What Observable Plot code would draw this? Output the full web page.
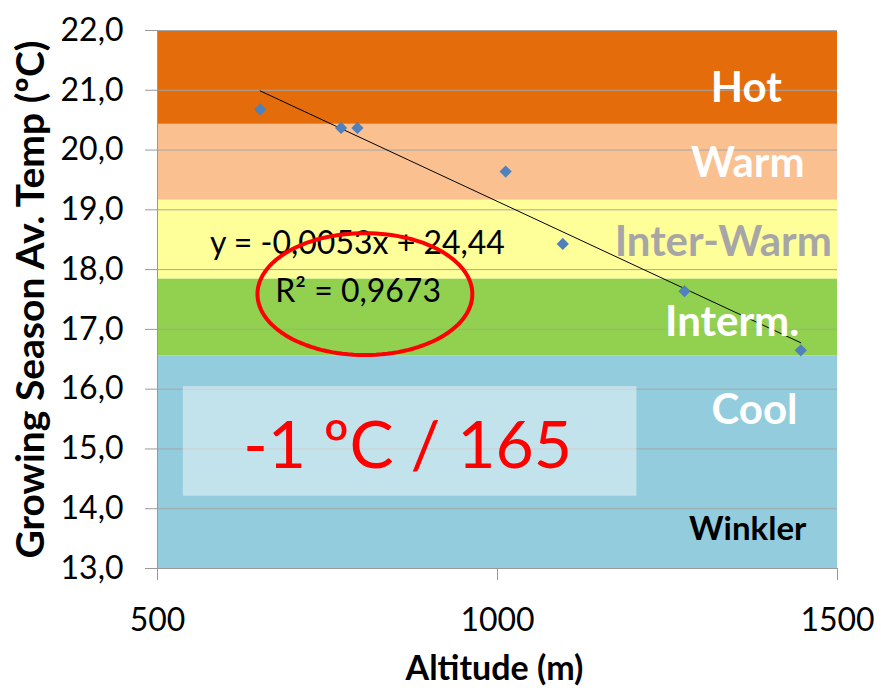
<!DOCTYPE html>
<html>
<head>
<meta charset="utf-8">
<script src="https://cdn.jsdelivr.net/npm/d3@7"></script>
<script src="https://cdn.jsdelivr.net/npm/@observablehq/plot@0.6"></script>
<style>
  html, body { margin: 0; padding: 0; background: #fff; }
</style>
</head>
<body>
<div id="chart"></div>
<script>
// ---- data ----
const altitude = [651, 770, 794, 1012, 1096, 1275, 1446];
const temperature = [20.68, 20.37, 20.37, 19.64, 18.43, 17.64, 16.65];

const zoneNames = ["Hot", "Warm", "Inter-Warm", "Interm.", "Cool"];
const zoneLow = [20.43, 19.16, 17.84, 16.56, 13.0];
const zoneHigh = [22.0, 20.43, 19.16, 17.84, 16.56];
const zoneColors = ["#e46c0a", "#fac090", "#ffff99", "#92d050", "#93cddd"];
const zoneTextColors = ["#ffffff", "#ffffff", "#a6a6a6", "#ffffff", "#ffffff"];
const zoneLabelX = [1366, 1368, 1332, 1345, 1378];
const zoneLabelY = [21.03, 19.78, 18.45, 17.11, 15.64];

const xTicks = [500, 1000, 1500];
const yTicks = [13, 14, 15, 16, 17, 18, 19, 20, 21, 22];

const trendSlope = -0.0053;
const trendIntercept = 24.44;
const equationText = "y = -0,0053x + 24,44";
const r2Text = "R² = 0,9673";
const rateText = "-1 ºC / 165";
const legendWord = "Winkler";

const xLabel = "Altitude (m)";
const yLabel = "Growing Season Av. Temp (ºC)";

// annotation geometry (data units)
const highlightBox = {x1: 538, x2: 1205, y1: 14.21, y2: 16.04};
const ellipse = {cx: 805, cy: 17.59, rx: 158, ry: 1.02};

// ---- derived tables ----
const points = altitude.map((a, i) => ({a, t: temperature[i]}));
const zones = zoneNames.map((n, i) => ({
  name: n, lo: zoneLow[i], hi: zoneHigh[i], color: zoneColors[i],
  tc: zoneTextColors[i], lx: zoneLabelX[i], ly: zoneLabelY[i]
}));
const xMin = d3.min(altitude), xMax = d3.max(altitude);
const trend = [xMin, xMax].map(a => ({a, t: trendSlope * a + trendIntercept}));
const ellipsePts = d3.range(0, 121).map(k => {
  const th = (k / 120) * 2 * Math.PI;
  return {a: ellipse.cx + ellipse.rx * Math.cos(th), t: ellipse.cy + ellipse.ry * Math.sin(th)};
});
const fmt = d => d.toFixed(1).replace(".", ",");

const font = "Lato, 'Open Sans', sans-serif";

const chart = Plot.plot({
  width: 881,
  height: 700,
  marginLeft: 157,
  marginRight: 44,
  marginTop: 30,
  marginBottom: 132,
  style: {fontFamily: font, fontSize: "32px", color: "#000", background: "#fff"},
  x: {domain: [500, 1500]},
  y: {domain: [13, 22]},
  color: {type: "identity"},
  marks: [
    Plot.rect(zones, {x1: () => 500, x2: () => 1500, y1: "lo", y2: "hi", fill: "color"}),
    Plot.gridY(yTicks, {stroke: "#a6a6a6", strokeOpacity: 1, strokeWidth: 1}),
    Plot.rect([highlightBox], {x1: "x1", x2: "x2", y1: "y1", y2: "y2", fill: "#ffffff", fillOpacity: 0.45}),
    Plot.line(trend, {x: "a", y: "t", stroke: "#000", strokeWidth: 1}),
    Plot.dot(points, {x: "a", y: "t", symbol: "diamond2", r: 5.5, fill: "#4f81bd", stroke: "none"}),
    Plot.text(zones, {x: "lx", y: "ly", text: "name", fill: "tc", fontSize: 42, fontWeight: "bold"}),
    Plot.text([legendWord], {x: 1368, y: 13.66, text: d => d, fill: "#000", fontSize: 33, fontWeight: "bold"}),
    Plot.text([equationText], {x: 794, y: 18.44, text: d => d, fill: "#000", fontSize: 32}),
    Plot.text([r2Text], {x: 795, y: 17.63, text: d => d, fill: "#000", fontSize: 32}),
    Plot.line(ellipsePts, {x: "a", y: "t", stroke: "#ff0000", strokeWidth: 4, curve: "linear"}),
    Plot.text([rateText], {x: 868, y: 15.04, text: d => d, fill: "#ff0000", fontSize: 66}),
    Plot.ruleX([500], {stroke: "#999"}),
    Plot.ruleY([13], {stroke: "#999"}),
    Plot.axisY({ticks: yTicks, tickFormat: fmt, tickSize: 12, tickPadding: 22, stroke: "#999", label: null, fontSize: 32}),
    Plot.axisX({ticks: xTicks, tickFormat: d => String(d), tickSize: 12, tickPadding: 28, stroke: "#999", label: null, fontSize: 32}),
    Plot.text([yLabel], {frameAnchor: "left", textAnchor: "middle", rotate: -90, dx: -126, dy: 0, text: d => d, fontWeight: "bold", fontSize: 39}),
    Plot.text([xLabel], {frameAnchor: "bottom", dy: 111, dx: -3, text: d => d, fontWeight: "bold", fontSize: 34})
  ]
});
document.getElementById("chart").appendChild(chart);
</script>
</body>
</html>
